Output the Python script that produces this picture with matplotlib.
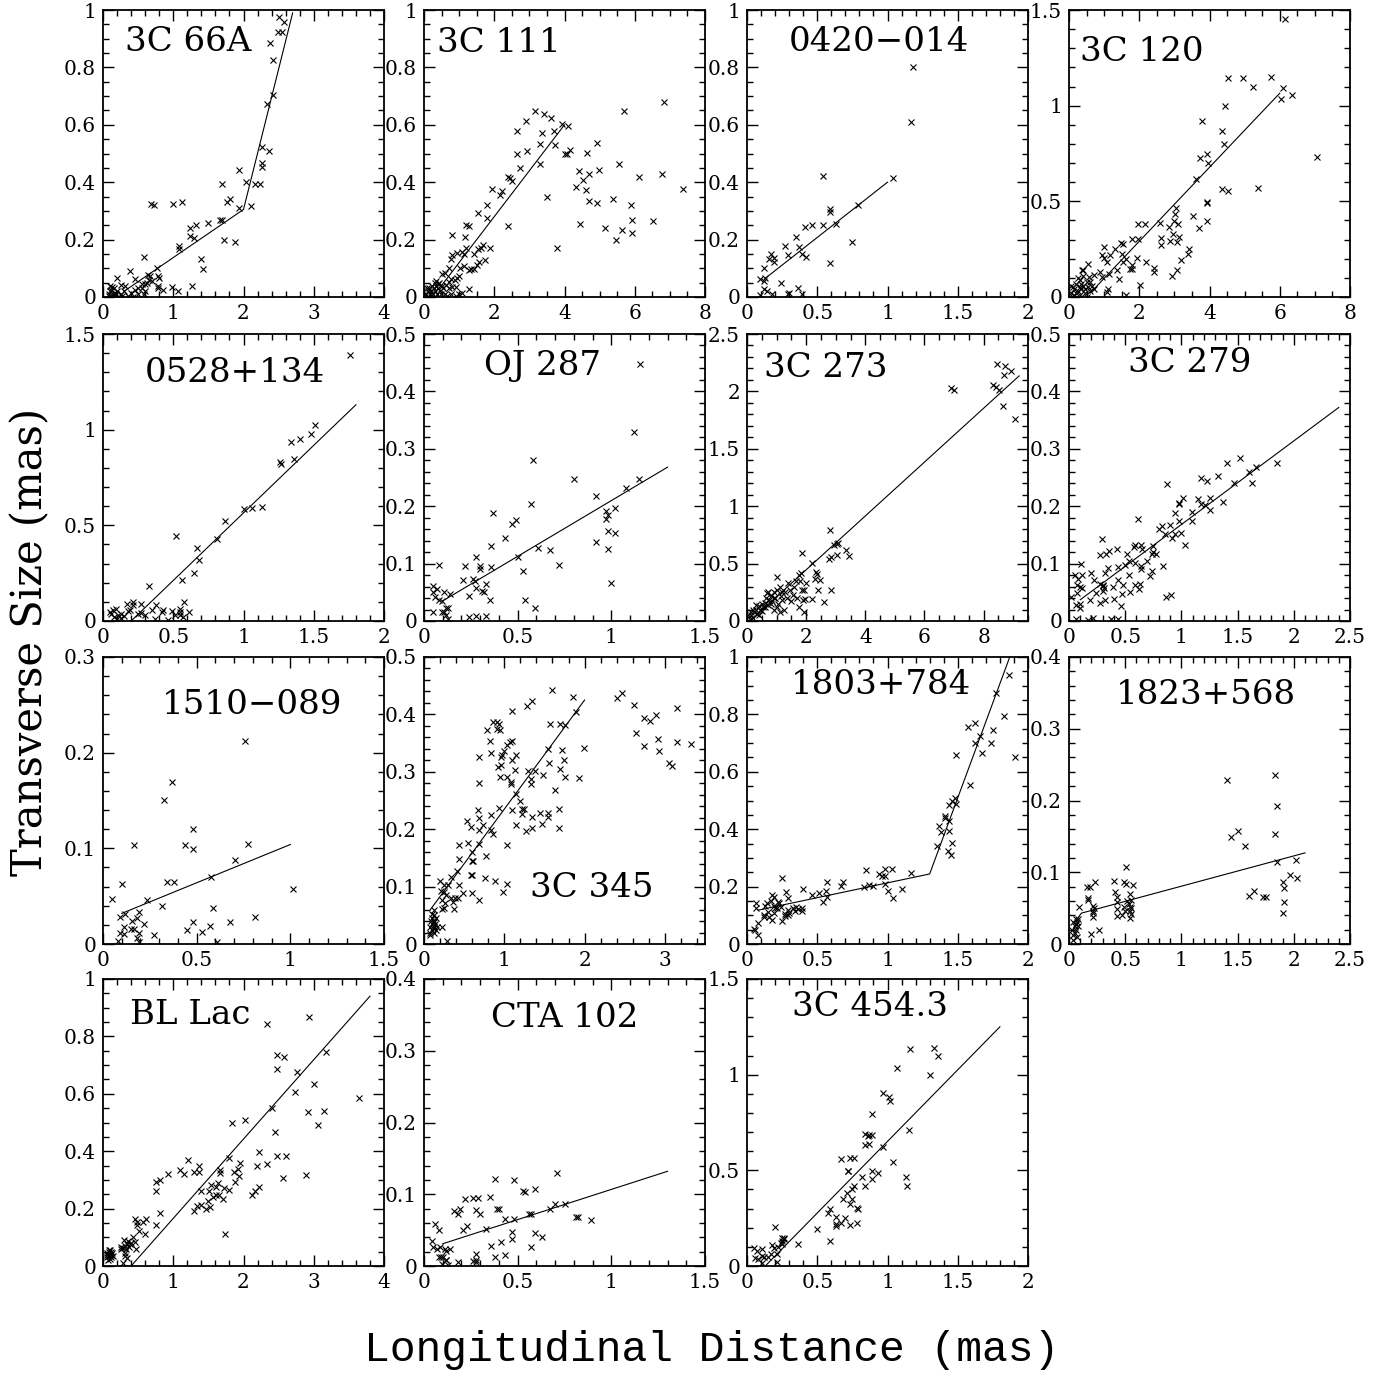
import numpy as np
import matplotlib.pyplot as plt
from matplotlib.ticker import MultipleLocator, FuncFormatter

# source names
names = ["3C 66A", "3C 111", "0420\u2212014", "3C 120",
         "0528+134", "OJ 287", "3C 273", "3C 279",
         "1510\u2212089", "3C 345", "1803+784", "1823+568",
         "BL Lac", "CTA 102", "3C 454.3"]

# measured points (longitudinal distance, transverse size) in mas
pts_3c66a = [
    (2.50, 0.977), (2.58, 0.957), (2.49, 0.922), (2.55, 0.922), (2.38, 0.884), (2.42, 0.827),
    (2.42, 0.703), (2.34, 0.671), (2.27, 0.524), (2.37, 0.509), (2.27, 0.468), (2.26, 0.453),
    (1.94, 0.443), (2.03, 0.401), (2.16, 0.395), (2.24, 0.395), (1.70, 0.395), (1.81, 0.341),
    (1.77, 0.332), (1.94, 0.31), (2.11, 0.318), (0.69, 0.324), (0.73, 0.321), (0.99, 0.324),
    (1.13, 0.332), (1.24, 0.240), (1.33, 0.251), (1.49, 0.258), (1.67, 0.269), (1.70, 0.27),
    (1.24, 0.212), (1.29, 0.205), (1.72, 0.197), (1.88, 0.193), (1.08, 0.177), (1.08, 0.168),
    (1.40, 0.133), (1.43, 0.098), (0.59, 0.139), (0.77, 0.102), (0.39, 0.092), (0.64, 0.077),
    (0.67, 0.072), (0.79, 0.073), (0.80, 0.066), (0.46, 0.064), (0.20, 0.066), (0.25, 0.043),
    (0.32, 0.038), (0.60, 0.046), (0.79, 0.04), (0.78, 0.031), (0.85, 0.023), (0.98, 0.035),
    (1.07, 0.02), (1.27, 0.04),
    (0.08, 0.01), (0.10, 0.02), (0.12, 0.005), (0.15, 0.03), (0.18, 0.01), (0.20, 0.02),
    (0.22, 0.0), (0.25, 0.01), (0.30, 0.02), (0.35, 0.005), (0.40, 0.015), (0.45, 0.025),
    (0.50, 0.01), (0.55, 0.03), (0.60, 0.02), (0.62, 0.05), (0.65, 0.06), (0.70, 0.055),
    (0.10, 0.04), (0.13, 0.035), (0.08, 0.005), (0.17, 0.015), (0.27, 0.005), (0.50, 0.03),
    (0.55, 0.045), (0.12, 0.025), (0.14, 0.01), (0.42, 0.0), (0.58, 0.01),
]
pts_3c111 = [
    (3.15, 0.648), (3.42, 0.636), (3.62, 0.624), (2.89, 0.613), (3.92, 0.602), (4.11, 0.597),
    (2.65, 0.579), (3.69, 0.579), (3.36, 0.570), (3.31, 0.533), (3.74, 0.529), (2.65, 0.5),
    (2.94, 0.508), (4.01, 0.498), (4.08, 0.498), (4.16, 0.512), (4.63, 0.503), (4.92, 0.535),
    (3.30, 0.465), (2.72, 0.448), (4.41, 0.44), (4.99, 0.442), (4.69, 0.428), (4.52, 0.407),
    (4.33, 0.384), (4.61, 0.372), (4.69, 0.334), (4.92, 0.328), (3.50, 0.347), (5.54, 0.463),
    (5.68, 0.649), (7.38, 0.378), (6.11, 0.419), (6.77, 0.430), (6.84, 0.678), (5.37, 0.341),
    (5.90, 0.320), (5.92, 0.267), (6.51, 0.264), (5.64, 0.233), (5.92, 0.224), (5.47, 0.197),
    (5.16, 0.241), (4.44, 0.253), (3.79, 0.172), (2.40, 0.247), (2.38, 0.419), (2.44, 0.413),
    (2.51, 0.403), (1.93, 0.376), (2.16, 0.355), (2.23, 0.37), (1.80, 0.322), (1.54, 0.291),
    (1.80, 0.276), (1.19, 0.25), (1.28, 0.247), (1.16, 0.209), (0.81, 0.215), (1.87, 0.169),
    (1.68, 0.18), (1.63, 0.171), (1.54, 0.166), (1.43, 0.151), (1.19, 0.171), (1.07, 0.157),
    (1.13, 0.151), (0.93, 0.155), (0.81, 0.145), (0.76, 0.134), (1.74, 0.130), (1.56, 0.122),
    (1.51, 0.11), (1.42, 0.099), (1.35, 0.097), (1.29, 0.093), (1.15, 0.107), (1.02, 0.101),
    (0.72, 0.101), (0.60, 0.085), (0.52, 0.081), (1.0, 0.072), (0.93, 0.066), (0.78, 0.062),
    (0.87, 0.058), (0.70, 0.052), (0.64, 0.043), (0.90, 0.035), (1.29, 0.027), (1.07, 0.015),
    (1.0, 0.009), (0.77, 0.012),
    (0.05, 0.01), (0.10, 0.02), (0.12, 0.0), (0.15, 0.03), (0.18, 0.01), (0.20, 0.02),
    (0.22, 0.04), (0.25, 0.01), (0.28, 0.03), (0.30, 0.05), (0.32, 0.02), (0.35, 0.04),
    (0.38, 0.01), (0.40, 0.03), (0.42, 0.05), (0.45, 0.02), (0.50, 0.04), (0.55, 0.03),
    (0.60, 0.01), (0.08, 0.03), (0.30, 0.0), (0.35, 0.055), (0.40, 0.045), (0.48, 0.01),
    (0.70, 0.03), (0.65, 0.005), (0.80, 0.035), (0.90, 0.005),
]
pts_0420 = [
    (1.18, 0.802), (1.17, 0.61), (0.54, 0.422), (1.04, 0.415), (0.79, 0.322), (0.59, 0.305),
    (0.59, 0.297), (0.41, 0.243), (0.46, 0.25), (0.54, 0.252), (0.63, 0.255), (0.35, 0.209),
    (0.37, 0.174), (0.39, 0.151), (0.42, 0.14), (0.75, 0.19), (0.59, 0.12), (0.27, 0.179),
    (0.29, 0.148), (0.17, 0.151), (0.16, 0.131), (0.19, 0.136), (0.19, 0.122), (0.12, 0.102),
    (0.09, 0.064), (0.13, 0.066), (0.12, 0.055), (0.24, 0.049), (0.12, 0.029), (0.14, 0.02),
    (0.18, 0.012), (0.29, 0.012), (0.30, 0.015), (0.36, 0.031), (0.39, 0.009), (0.09, 0.006),
]
pts_3c120 = [
    (6.14, 1.453), (4.52, 1.143), (4.96, 1.143), (5.74, 1.149), (5.24, 1.095), (6.09, 1.092),
    (6.03, 1.034), (6.35, 1.055), (4.43, 0.998), (3.80, 0.921), (4.35, 0.867), (4.41, 0.799),
    (3.94, 0.750), (3.73, 0.724), (3.97, 0.701), (7.05, 0.733), (3.62, 0.616), (4.35, 0.565),
    (4.54, 0.553), (5.39, 0.571), (3.94, 0.497), (3.94, 0.492), (3.54, 0.424), (3.71, 0.361),
    (3.92, 0.399), (3.05, 0.466), (3.01, 0.433), (2.99, 0.396), (3.11, 0.384), (2.84, 0.366),
    (2.60, 0.389), (2.61, 0.310), (2.61, 0.270), (2.97, 0.331), (3.14, 0.314), (2.88, 0.291),
    (3.07, 0.288), (3.42, 0.253), (3.39, 0.227), (3.19, 0.192), (3.07, 0.14), (2.92, 0.108),
    (2.43, 0.152), (2.43, 0.131), (2.18, 0.183), (1.97, 0.384), (2.16, 0.379), (1.97, 0.302),
    (1.95, 0.204), (2.03, 0.065), (1.80, 0.302), (1.80, 0.166), (1.80, 0.148), (1.62, 0.201),
    (1.48, 0.283), (1.53, 0.279), (1.30, 0.253), (1.51, 0.227), (1.53, 0.183), (1.74, 0.145),
    (1.62, 0.012), (1.37, 0.143), (1.41, 0.096), (1.16, 0.222), (1.07, 0.183), (1.14, 0.122),
    (0.99, 0.262), (0.93, 0.218), (0.99, 0.206), (0.87, 0.131), (0.93, 0.105), (0.70, 0.117),
    (0.58, 0.105), (1.10, 0.044), (1.07, 0.026), (0.54, 0.171), (0.37, 0.14), (0.41, 0.14),
    (0.05, 0.02), (0.10, 0.05), (0.15, 0.01), (0.20, 0.07), (0.25, 0.03), (0.30, 0.09),
    (0.35, 0.04), (0.40, 0.06), (0.45, 0.02), (0.50, 0.08), (0.55, 0.05), (0.10, 0.0),
    (0.20, 0.02), (0.30, 0.01), (0.35, 0.07), (0.25, 0.10), (0.15, 0.04), (0.40, 0.11),
    (0.45, 0.04), (0.60, 0.03), (0.65, 0.06), (0.70, 0.04), (0.05, 0.06), (0.50, 0.0),
    (0.60, 0.08), (0.30, 0.05),
]
pts_0528 = [
    (1.76, 1.39), (1.51, 1.024), (1.48, 0.977), (1.40, 0.952), (1.34, 0.937), (1.36, 0.846),
    (1.26, 0.832), (1.27, 0.818), (1.13, 0.595), (1.06, 0.591), (1.00, 0.584), (0.87, 0.523),
    (0.81, 0.431), (0.52, 0.443), (0.67, 0.379), (0.68, 0.321), (0.65, 0.251), (0.56, 0.216),
    (0.33, 0.185), (0.58, 0.098), (0.61, 0.047), (0.55, 0.065), (0.55, 0.047), (0.55, 0.033),
    (0.49, 0.051), (0.51, 0.033), (0.57, 0.021), (0.38, 0.082), (0.35, 0.056), (0.42, 0.047),
    (0.43, 0.056), (0.27, 0.091), (0.21, 0.099), (0.21, 0.082), (0.17, 0.091), (0.18, 0.052),
    (0.19, 0.056), (0.25, 0.038), (0.27, 0.042), (0.30, 0.03), (0.07, 0.056), (0.09, 0.065),
    (0.06, 0.038), (0.11, 0.03), (0.13, 0.038), (0.08, 0.021), (0.13, 0.017), (0.37, 0.012),
    (0.46, 0.003), (0.05, 0.045), (0.10, 0.01), (0.15, 0.025),
]
pts_oj287 = [
    (1.155, 0.448), (1.12, 0.33), (0.58, 0.28), (0.80, 0.247), (1.15, 0.247), (1.08, 0.232),
    (0.92, 0.218), (0.57, 0.203), (0.37, 0.189), (0.49, 0.176), (0.47, 0.169), (0.97, 0.192),
    (0.98, 0.184), (0.97, 0.177), (1.02, 0.197), (0.98, 0.156), (1.02, 0.153), (0.92, 0.137),
    (0.98, 0.126), (1.0, 0.067), (0.43, 0.145), (0.36, 0.13), (0.61, 0.127), (0.67, 0.124),
    (0.50, 0.112), (0.28, 0.112), (0.72, 0.098), (0.36, 0.094), (0.30, 0.095), (0.30, 0.091),
    (0.22, 0.095), (0.53, 0.087), (0.08, 0.097), (0.21, 0.071), (0.26, 0.073), (0.27, 0.069),
    (0.33, 0.064), (0.28, 0.058), (0.31, 0.052), (0.32, 0.051), (0.24, 0.043), (0.05, 0.061),
    (0.07, 0.055), (0.05, 0.051), (0.105, 0.051), (0.14, 0.047), (0.06, 0.041), (0.08, 0.036),
    (0.094, 0.035), (0.35, 0.037), (0.54, 0.037), (0.12, 0.022), (0.13, 0.023), (0.094, 0.016),
    (0.105, 0.015), (0.046, 0.015), (0.59, 0.022), (0.24, 0.007), (0.28, 0.008), (0.33, 0.008),
    (0.116, 0.01), (0.13, 0.004),
]
pts_3c273 = [
    (8.46, 2.235), (8.73, 2.221), (8.92, 2.177), (8.69, 2.143), (6.90, 2.026), (7.0, 2.012),
    (8.32, 2.058), (8.41, 2.035), (8.51, 2.015), (8.66, 1.872), (9.06, 1.759), (2.80, 0.791),
    (3.08, 0.683), (3.03, 0.674), (2.94, 0.66), (3.35, 0.622), (3.45, 0.567), (3.03, 0.573),
    (2.83, 0.558), (2.76, 0.538), (1.86, 0.596), (2.21, 0.509), (1.82, 0.419), (1.75, 0.398),
    (2.33, 0.427), (2.36, 0.413), (2.29, 0.369), (2.48, 0.360), (2.40, 0.267), (2.83, 0.273),
    (2.62, 0.166), (1.93, 0.267), (1.97, 0.195), (2.21, 0.189), (1.93, 0.078), (1.03, 0.384),
    (0.10, 0.02), (0.15, 0.05), (0.20, 0.03), (0.25, 0.08), (0.30, 0.10), (0.35, 0.06),
    (0.40, 0.13), (0.45, 0.10), (0.50, 0.15), (0.55, 0.12), (0.60, 0.16), (0.65, 0.20),
    (0.70, 0.14), (0.75, 0.18), (0.80, 0.22), (0.85, 0.17), (0.90, 0.25), (0.95, 0.20),
    (1.00, 0.27), (1.05, 0.15), (1.10, 0.30), (1.15, 0.22), (1.20, 0.18), (1.25, 0.10),
    (1.30, 0.25), (1.35, 0.20), (1.40, 0.33), (1.45, 0.27), (1.50, 0.17), (1.55, 0.23),
    (1.60, 0.30), (1.65, 0.35), (1.70, 0.20), (1.75, 0.12), (1.80, 0.35), (1.85, 0.27),
    (1.90, 0.18), (2.00, 0.33), (0.05, 0.05), (0.08, 0.0), (0.12, 0.08), (0.60, 0.12),
    (0.70, 0.25), (1.10, 0.08), (0.90, 0.10), (0.90, 0.20), (0.69, 0.244), (0.30, 0.14),
    (0.50, 0.09), (1.20, 0.25), (0.40, 0.05), (0.20, 0.10), (1.00, 0.12), (0.80, 0.15),
]
pts_3c279 = [
    (1.52, 0.284), (1.41, 0.276), (1.85, 0.276), (1.66, 0.269), (1.60, 0.26), (1.47, 0.241),
    (1.63, 0.24), (1.33, 0.252), (1.17, 0.25), (1.23, 0.244), (0.87, 0.238), (1.15, 0.212),
    (1.25, 0.215), (1.25, 0.194), (1.01, 0.215), (1.37, 0.208), (1.17, 0.203), (1.21, 0.202),
    (0.98, 0.205), (0.98, 0.203), (1.09, 0.19), (0.94, 0.188), (0.61, 0.177), (0.98, 0.174),
    (1.09, 0.174), (0.83, 0.165), (0.80, 0.160), (0.90, 0.168), (0.85, 0.151), (0.94, 0.151),
    (1.00, 0.153), (0.92, 0.144), (1.03, 0.133), (0.29, 0.142), (0.43, 0.126), (0.36, 0.122),
    (0.33, 0.116), (0.28, 0.115), (0.52, 0.116), (0.59, 0.132), (0.58, 0.129), (0.64, 0.132),
    (0.65, 0.126), (0.75, 0.13), (0.75, 0.12), (0.77, 0.116), (0.74, 0.117), (0.69, 0.105),
    (0.53, 0.105), (0.50, 0.097), (0.44, 0.094), (0.35, 0.092), (0.59, 0.101), (0.64, 0.095),
    (0.64, 0.091), (0.84, 0.096), (0.74, 0.087), (0.72, 0.078), (0.53, 0.08), (0.11, 0.099),
    (0.12, 0.081), (0.20, 0.084), (0.22, 0.072), (0.32, 0.083), (0.05, 0.080), (0.08, 0.074),
    (0.02, 0.041), (0.07, 0.062), (0.07, 0.049), (0.095, 0.059), (0.12, 0.058), (0.28, 0.064),
    (0.30, 0.061), (0.30, 0.062), (0.31, 0.058), (0.30, 0.053), (0.44, 0.071), (0.39, 0.059),
    (0.48, 0.062), (0.59, 0.062), (0.63, 0.065), (0.62, 0.056), (0.54, 0.051), (0.47, 0.047),
    (0.24, 0.049), (0.19, 0.037), (0.28, 0.032), (0.32, 0.037), (0.40, 0.039), (0.46, 0.026),
    (0.86, 0.042), (0.91, 0.045), (0.06, 0.028), (0.10, 0.029), (0.10, 0.023), (0.06, 0.004),
    (0.17, 0.002), (0.21, 0.005), (0.37, 0.004), (0.44, 0.004),
]
pts_1510 = [
    (0.76, 0.212), (0.366, 0.169), (0.326, 0.151), (0.483, 0.12), (0.168, 0.103), (0.44, 0.103),
    (0.483, 0.099), (0.775, 0.105), (0.707, 0.088), (0.577, 0.07), (0.344, 0.065), (0.377, 0.065),
    (0.103, 0.063), (1.015, 0.057), (0.049, 0.047), (0.236, 0.046), (0.314, 0.04), (0.588, 0.038),
    (0.119, 0.031), (0.191, 0.033), (0.09, 0.028), (0.18, 0.027), (0.81, 0.028), (0.157, 0.024),
    (0.22, 0.021), (0.479, 0.023), (0.68, 0.023), (0.57, 0.019), (0.112, 0.018), (0.15, 0.016),
    (0.168, 0.016), (0.449, 0.015), (0.53, 0.013), (0.09, 0.012), (0.112, 0.01), (0.19, 0.012),
    (0.27, 0.009), (0.18, 0.006), (0.079, 0.003), (0.19, 0.002), (0.606, 0.002),
]
pts_3c345 = [
    (1.59, 0.443), (1.85, 0.430), (1.35, 0.424), (1.28, 0.414), (2.46, 0.437), (2.41, 0.428),
    (2.62, 0.417), (3.15, 0.411), (2.74, 0.394), (2.81, 0.388), (2.89, 0.399), (1.09, 0.406),
    (1.89, 0.404), (2.64, 0.367), (3.15, 0.352), (3.32, 0.349), (2.92, 0.358), (2.93, 0.336),
    (2.74, 0.345), (1.99, 0.341), (3.05, 0.315), (3.09, 0.31), (0.86, 0.387), (0.93, 0.384),
    (0.91, 0.387), (0.78, 0.372), (0.91, 0.375), (0.95, 0.372), (0.82, 0.353), (1.07, 0.352),
    (1.09, 0.353), (1.03, 0.346), (1.0, 0.337), (0.84, 0.333), (0.97, 0.330), (0.96, 0.326),
    (0.69, 0.326), (1.15, 0.330), (1.09, 0.32), (1.55, 0.34), (1.57, 0.384), (1.70, 0.384),
    (1.72, 0.338), (1.76, 0.381), (0.96, 0.311), (0.92, 0.309), (1.13, 0.303), (1.29, 0.301),
    (1.38, 0.301), (0.95, 0.291), (1.04, 0.291), (1.08, 0.282), (1.08, 0.279), (1.33, 0.288),
    (1.33, 0.279), (1.56, 0.316), (1.70, 0.305), (1.74, 0.32), (1.48, 0.294), (1.76, 0.291),
    (1.93, 0.29), (0.69, 0.281), (1.15, 0.262), (1.20, 0.25), (1.63, 0.269), (0.94, 0.237),
    (1.22, 0.235), (1.25, 0.235), (1.09, 0.233), (0.67, 0.233), (0.68, 0.22), (0.83, 0.225),
    (1.22, 0.226), (1.35, 0.221), (1.44, 0.228), (1.55, 0.228), (1.55, 0.221), (1.68, 0.235),
    (0.53, 0.215), (0.59, 0.203), (0.74, 0.207), (0.83, 0.199), (0.86, 0.192), (1.15, 0.208),
    (1.47, 0.209), (1.35, 0.202), (1.27, 0.197), (1.68, 0.202), (0.69, 0.198), (0.43, 0.173),
    (0.55, 0.176), (0.69, 0.174), (1.04, 0.173), (0.60, 0.16), (0.61, 0.145), (0.60, 0.144),
    (0.44, 0.148), (0.77, 0.153), (0.41, 0.127), (0.59, 0.121), (0.60, 0.12), (0.34, 0.116),
    (0.76, 0.115), (0.89, 0.11), (0.20, 0.11), (0.25, 0.103), (0.30, 0.102), (0.43, 0.103),
    (1.03, 0.105), (0.98, 0.09), (0.21, 0.093), (0.25, 0.09), (0.28, 0.086), (0.34, 0.081),
    (0.38, 0.08), (0.42, 0.081), (0.48, 0.088), (0.60, 0.089), (0.69, 0.076), (0.22, 0.076),
    (0.26, 0.071), (0.36, 0.074), (0.23, 0.061), (0.25, 0.063), (0.37, 0.061), (0.12, 0.059),
    (0.10, 0.053), (0.078, 0.015), (0.29, 0.005), (0.23, 0.03),
    (0.08, 0.03), (0.10, 0.025), (0.10, 0.035), (0.12, 0.04), (0.12, 0.03), (0.13, 0.02),
    (0.14, 0.035), (0.15, 0.045), (0.09, 0.04), (0.11, 0.028), (0.13, 0.038), (0.16, 0.03),
    (0.10, 0.045), (0.15, 0.025), (0.08, 0.02), (0.12, 0.05),
]
pts_1803 = [
    (1.866, 0.937), (1.77, 0.876), (1.83, 0.795), (1.62, 0.771), (1.57, 0.756), (1.75, 0.745),
    (1.66, 0.725), (1.62, 0.70), (1.74, 0.702), (1.67, 0.667), (1.49, 0.659), (1.91, 0.65),
    (1.59, 0.553), (1.48, 0.507), (1.46, 0.499), (1.49, 0.487), (1.44, 0.485), (1.41, 0.447),
    (1.41, 0.439), (1.44, 0.427), (1.37, 0.41), (1.38, 0.391), (1.44, 0.392), (1.35, 0.341),
    (1.46, 0.352), (1.43, 0.325), (1.45, 0.31), (0.85, 0.258), (0.98, 0.261), (1.03, 0.261),
    (1.17, 0.247), (0.94, 0.244), (0.96, 0.238), (0.98, 0.238), (0.68, 0.217), (0.57, 0.215),
    (0.25, 0.229), (0.67, 0.201), (0.83, 0.197), (0.87, 0.205), (0.90, 0.203), (0.98, 0.209),
    (1.0, 0.183), (1.10, 0.191), (1.04, 0.159), (0.40, 0.19), (0.46, 0.171), (0.51, 0.176),
    (0.56, 0.183), (0.57, 0.165), (0.54, 0.145), (0.28, 0.182), (0.29, 0.159), (0.18, 0.171),
    (0.19, 0.165), (0.22, 0.147), (0.23, 0.143), (0.14, 0.142), (0.13, 0.133), (0.066, 0.142),
    (0.066, 0.125), (0.17, 0.15), (0.19, 0.133), (0.20, 0.124), (0.21, 0.125), (0.24, 0.128),
    (0.29, 0.118), (0.33, 0.125), (0.35, 0.128), (0.36, 0.122), (0.39, 0.125), (0.34, 0.114),
    (0.39, 0.116), (0.15, 0.113), (0.19, 0.108), (0.12, 0.101), (0.12, 0.093), (0.18, 0.084),
    (0.25, 0.079), (0.27, 0.104), (0.29, 0.102), (0.30, 0.107), (0.27, 0.099), (0.155, 0.093),
    (0.05, 0.052), (0.06, 0.05), (0.08, 0.072), (0.075, 0.031),
]
pts_1823 = [
    (1.83, 0.235), (1.41, 0.229), (1.85, 0.192), (1.50, 0.157), (1.83, 0.154), (1.44, 0.149),
    (1.57, 0.137), (1.85, 0.114), (2.02, 0.117), (1.97, 0.096), (2.03, 0.092), (1.90, 0.086),
    (1.91, 0.078), (1.91, 0.059), (1.90, 0.043), (1.65, 0.074), (1.60, 0.067), (1.73, 0.065),
    (1.75, 0.065), (0.51, 0.107), (0.40, 0.088), (0.49, 0.086), (0.51, 0.084), (0.57, 0.082),
    (0.41, 0.072), (0.43, 0.066), (0.43, 0.059), (0.54, 0.07), (0.52, 0.06), (0.55, 0.061),
    (0.53, 0.056), (0.54, 0.052), (0.55, 0.05), (0.54, 0.046), (0.55, 0.042), (0.54, 0.036),
    (0.49, 0.052), (0.50, 0.046), (0.43, 0.049), (0.43, 0.039), (0.47, 0.041), (0.23, 0.086),
    (0.16, 0.079), (0.19, 0.08), (0.17, 0.064), (0.17, 0.061), (0.21, 0.053), (0.22, 0.05),
    (0.21, 0.046), (0.21, 0.043), (0.21, 0.037), (0.09, 0.052), (0.27, 0.02), (0.20, 0.014),
    (0.04, 0.006),
    (0.03, 0.02), (0.04, 0.03), (0.05, 0.015), (0.05, 0.025), (0.06, 0.035), (0.06, 0.02),
    (0.07, 0.03), (0.07, 0.01), (0.08, 0.025), (0.04, 0.012), (0.08, 0.035), (0.06, 0.028),
]
pts_bllac = [
    (2.93, 0.866), (2.34, 0.842), (2.47, 0.734), (2.58, 0.727), (2.47, 0.686), (2.76, 0.677),
    (3.18, 0.747), (2.997, 0.634), (2.73, 0.607), (3.65, 0.584), (2.40, 0.549), (2.92, 0.535),
    (3.15, 0.541), (3.06, 0.49), (2.02, 0.51), (1.84, 0.5), (2.45, 0.467), (2.22, 0.396),
    (2.48, 0.383), (2.60, 0.383), (2.34, 0.356), (2.56, 0.305), (2.89, 0.317), (1.21, 0.370),
    (1.09, 0.333), (1.16, 0.321), (1.36, 0.347), (1.30, 0.329), (1.37, 0.329), (1.80, 0.377),
    (1.95, 0.359), (1.67, 0.336), (1.67, 0.324), (1.92, 0.338), (1.93, 0.314), (1.87, 0.326),
    (2.19, 0.347), (0.93, 0.321), (0.76, 0.292), (0.81, 0.301), (0.75, 0.260), (1.40, 0.26),
    (1.54, 0.282), (1.61, 0.274), (1.64, 0.288), (1.51, 0.26), (1.57, 0.239), (1.61, 0.247),
    (1.65, 0.246), (1.71, 0.233), (1.80, 0.266), (1.72, 0.272), (1.88, 0.294), (2.12, 0.248),
    (2.17, 0.26), (2.22, 0.277), (1.40, 0.213), (1.34, 0.210), (1.49, 0.228), (1.46, 0.198),
    (1.53, 0.204), (1.30, 0.193), (1.73, 0.113), (0.81, 0.184), (0.75, 0.144), (0.61, 0.163),
    (0.57, 0.155), (0.60, 0.113), (0.46, 0.163), (0.48, 0.155), (0.48, 0.144), (0.51, 0.123),
    (0.43, 0.101), (0.46, 0.084), (0.47, 0.058), (0.40, 0.079), (0.37, 0.067), (0.34, 0.076),
    (0.31, 0.07), (0.28, 0.061), (0.25, 0.058), (0.32, 0.047), (0.31, 0.035), (0.34, 0.029),
    (0.28, 0.012), (0.36, 0.088), (0.38, 0.078), (0.30, 0.09), (0.26, 0.065), (0.33, 0.06),
    (0.05, 0.03), (0.06, 0.045), (0.07, 0.02), (0.08, 0.05), (0.08, 0.035), (0.09, 0.04),
    (0.10, 0.025), (0.10, 0.055), (0.11, 0.04), (0.12, 0.03), (0.12, 0.05), (0.13, 0.045),
    (0.14, 0.035), (0.06, 0.04), (0.09, 0.055),
]
pts_cta102 = [
    (0.71, 0.129), (0.38, 0.121), (0.48, 0.12), (0.53, 0.104), (0.54, 0.103), (0.59, 0.107),
    (0.29, 0.095), (0.22, 0.093), (0.26, 0.095), (0.35, 0.096), (0.39, 0.08), (0.40, 0.08),
    (0.16, 0.076), (0.18, 0.072), (0.19, 0.079), (0.28, 0.078), (0.30, 0.072), (0.56, 0.073),
    (0.57, 0.073), (0.67, 0.079), (0.70, 0.086), (0.75, 0.086), (0.81, 0.068), (0.82, 0.068),
    (0.89, 0.064), (0.43, 0.065), (0.48, 0.065), (0.33, 0.052), (0.21, 0.05), (0.23, 0.056),
    (0.47, 0.047), (0.47, 0.037), (0.59, 0.046), (0.63, 0.041), (0.41, 0.034), (0.57, 0.027),
    (0.36, 0.028), (0.43, 0.016), (0.38, 0.012), (0.28, 0.017), (0.26, 0.007), (0.28, 0.008),
    (0.28, 0.005), (0.18, 0.005), (0.13, 0.002), (0.045, 0.035), (0.06, 0.058), (0.08, 0.05),
    (0.05, 0.026), (0.07, 0.023), (0.085, 0.026), (0.08, 0.013), (0.09, 0.013), (0.10, 0.013),
    (0.12, 0.021), (0.11, 0.023), (0.12, 0.008), (0.12, 0.009), (0.094, 0.003), (0.14, 0.024),
]
pts_3c454 = [
    (1.16, 1.132), (1.33, 1.137), (1.36, 1.097), (1.07, 1.036), (1.30, 0.996), (0.97, 0.904),
    (1.01, 0.881), (1.02, 0.860), (0.89, 0.797), (1.15, 0.710), (0.84, 0.689), (0.86, 0.677),
    (0.87, 0.684), (0.89, 0.684), (0.84, 0.631), (0.87, 0.637), (0.97, 0.624), (1.04, 0.544),
    (0.67, 0.558), (0.73, 0.567), (0.76, 0.562), (0.72, 0.497), (0.72, 0.494), (0.89, 0.497),
    (0.93, 0.488), (0.82, 0.467), (1.13, 0.467), (0.89, 0.453), (0.76, 0.419), (0.75, 0.401),
    (0.84, 0.419), (1.14, 0.419), (0.71, 0.379), (0.68, 0.352), (0.75, 0.349), (0.73, 0.323),
    (0.78, 0.305), (0.79, 0.30), (0.58, 0.276), (0.59, 0.30), (0.63, 0.256), (0.70, 0.253),
    (0.67, 0.227), (0.63, 0.222), (0.63, 0.209), (0.73, 0.213), (0.78, 0.227), (0.50, 0.195),
    (0.59, 0.131), (0.36, 0.117), (0.20, 0.206), (0.25, 0.131), (0.26, 0.14), (0.25, 0.148),
    (0.26, 0.148), (0.24, 0.122), (0.25, 0.113), (0.22, 0.099), (0.18, 0.11), (0.19, 0.096),
    (0.21, 0.061), (0.21, 0.021), (0.05, 0.092), (0.06, 0.04), (0.07, 0.079), (0.11, 0.087),
    (0.11, 0.052), (0.12, 0.047), (0.08, 0.035), (0.15, 0.047), (0.11, 0.017), (0.17, 0.065),
]

# fitted lines (break points)
fit_3c66a = ([0.3, 2.0, 2.7], [0.02, 0.305, 0.99])
fit_3c111 = ([0.5, 4.0], [0.04, 0.60])
fit_0420 = ([0.13, 1.0], [0.065, 0.40])
fit_3c120 = ([0.6, 6.0], [0.02, 1.065])
fit_0528 = ([0.2, 1.8], [0.0, 1.13])
fit_oj287 = ([0.1, 1.3], [0.035, 0.268])
fit_3c273 = ([0.1, 9.2], [0.0, 2.135])
fit_3c279 = ([0.1, 2.4], [0.037, 0.372])
fit_1510 = ([0.1, 1.0], [0.032, 0.104])
fit_3c345 = ([0.08, 2.0], [0.06, 0.425])
fit_1803 = ([0.08, 1.3, 1.87], [0.118, 0.244, 1.0])
fit_1823 = ([0.05, 0.11, 2.1], [0.03, 0.043, 0.127])
fit_bllac = ([0.4, 3.8], [0.0, 0.94])
fit_cta102 = ([0.1, 1.3], [0.031, 0.132])
fit_3c454 = ([0.13, 1.8], [0.0, 1.25])

all_pts = [pts_3c66a, pts_3c111, pts_0420, pts_3c120, pts_0528, pts_oj287, pts_3c273,
           pts_3c279, pts_1510, pts_3c345, pts_1803, pts_1823, pts_bllac, pts_cta102,
           pts_3c454]
all_fits = [fit_3c66a, fit_3c111, fit_0420, fit_3c120, fit_0528, fit_oj287, fit_3c273,
            fit_3c279, fit_1510, fit_3c345, fit_1803, fit_1823, fit_bllac, fit_cta102,
            fit_3c454]

# axis setup per panel: xmax, xmajor, xminor, ymax, ymajor, yminor
limits = [
    (4, 1, 0.2, 1, 0.2, 0.05), (8, 2, 0.5, 1, 0.2, 0.05),
    (2, 0.5, 0.1, 1, 0.2, 0.05), (8, 2, 0.5, 1.5, 0.5, 0.1),
    (2, 0.5, 0.1, 1.5, 0.5, 0.1), (1.5, 0.5, 0.1, 0.5, 0.1, 0.02),
    (9.5, 2, 0.5, 2.5, 0.5, 0.1), (2.5, 0.5, 0.1, 0.5, 0.1, 0.02),
    (1.5, 0.5, 0.1, 0.3, 0.1, 0.02), (3.5, 1, 0.2, 0.5, 0.1, 0.02),
    (2, 0.5, 0.1, 1, 0.2, 0.05), (2.5, 0.5, 0.1, 0.4, 0.1, 0.02),
    (4, 1, 0.2, 1, 0.2, 0.05), (1.5, 0.5, 0.1, 0.4, 0.1, 0.02),
    (2, 0.5, 0.1, 1.5, 0.5, 0.1),
]
# label placement inside each panel (axes fraction, alignment)
label_pos = [
    (0.078, 0.89, "left"), (0.046, 0.885, "left"), (0.47, 0.89, "center"),
    (0.04, 0.855, "left"), (0.47, 0.864, "center"), (0.42, 0.89, "center"),
    (0.06, 0.882, "left"), (0.43, 0.90, "center"), (0.53, 0.832, "center"),
    (0.596, 0.196, "center"), (0.475, 0.902, "center"), (0.486, 0.867, "center"),
    (0.31, 0.874, "center"), (0.50, 0.864, "center"), (0.436, 0.902, "center"),
]

W, H = 1379, 1374
col_left = [103, 424, 747, 1069]
row_top = [10, 334, 657, 979]
pw, ph = 281, 287

fig = plt.figure(figsize=(W / 100, H / 100), dpi=100)
fig.patch.set_facecolor("white")

fmt = FuncFormatter(lambda v, p: f"{v:g}")

for i in range(15):
    r, c = divmod(i, 4)
    ax = fig.add_axes([col_left[c] / W, 1 - (row_top[r] + ph) / H, pw / W, ph / H])
    xy = np.array(all_pts[i])
    ax.plot(xy[:, 0], xy[:, 1], "x", color="black", ms=4, mew=0.8)
    fx, fy = all_fits[i]
    ax.plot(fx, fy, "-", color="black", lw=0.8)

    xmax, xmaj, xmin, ymax, ymaj, ymin = limits[i]
    ax.set_xlim(0, xmax)
    ax.set_ylim(0, ymax)
    ax.xaxis.set_major_locator(MultipleLocator(xmaj))
    ax.xaxis.set_minor_locator(MultipleLocator(xmin))
    ax.yaxis.set_major_locator(MultipleLocator(ymaj))
    ax.yaxis.set_minor_locator(MultipleLocator(ymin))
    ax.xaxis.set_major_formatter(fmt)
    ax.yaxis.set_major_formatter(fmt)
    ax.tick_params(which="both", direction="in", top=True, right=True, width=1.0)
    ax.tick_params(which="major", length=8, labelsize=14.5, pad=5)
    ax.tick_params(which="minor", length=4)
    for lab in ax.get_xticklabels() + ax.get_yticklabels():
        lab.set_family("DejaVu Serif")
    for s in ax.spines.values():
        s.set_linewidth(1.3)

    lx, ly, ha = label_pos[i]
    ax.text(lx, ly, names[i], transform=ax.transAxes, ha=ha, va="center",
            fontsize=24.5, family="DejaVu Serif")

fig.text(30 / W, 1 - 642 / H, "Transverse Size (mas)", rotation=90, ha="center",
         va="center", fontsize=30, family="DejaVu Serif")
fig.text(712 / W, 1 - 1350 / H, "Longitudinal Distance (mas)", ha="center",
         va="center", fontsize=31, family="Liberation Mono")

fig.savefig("out.png", dpi=100)
